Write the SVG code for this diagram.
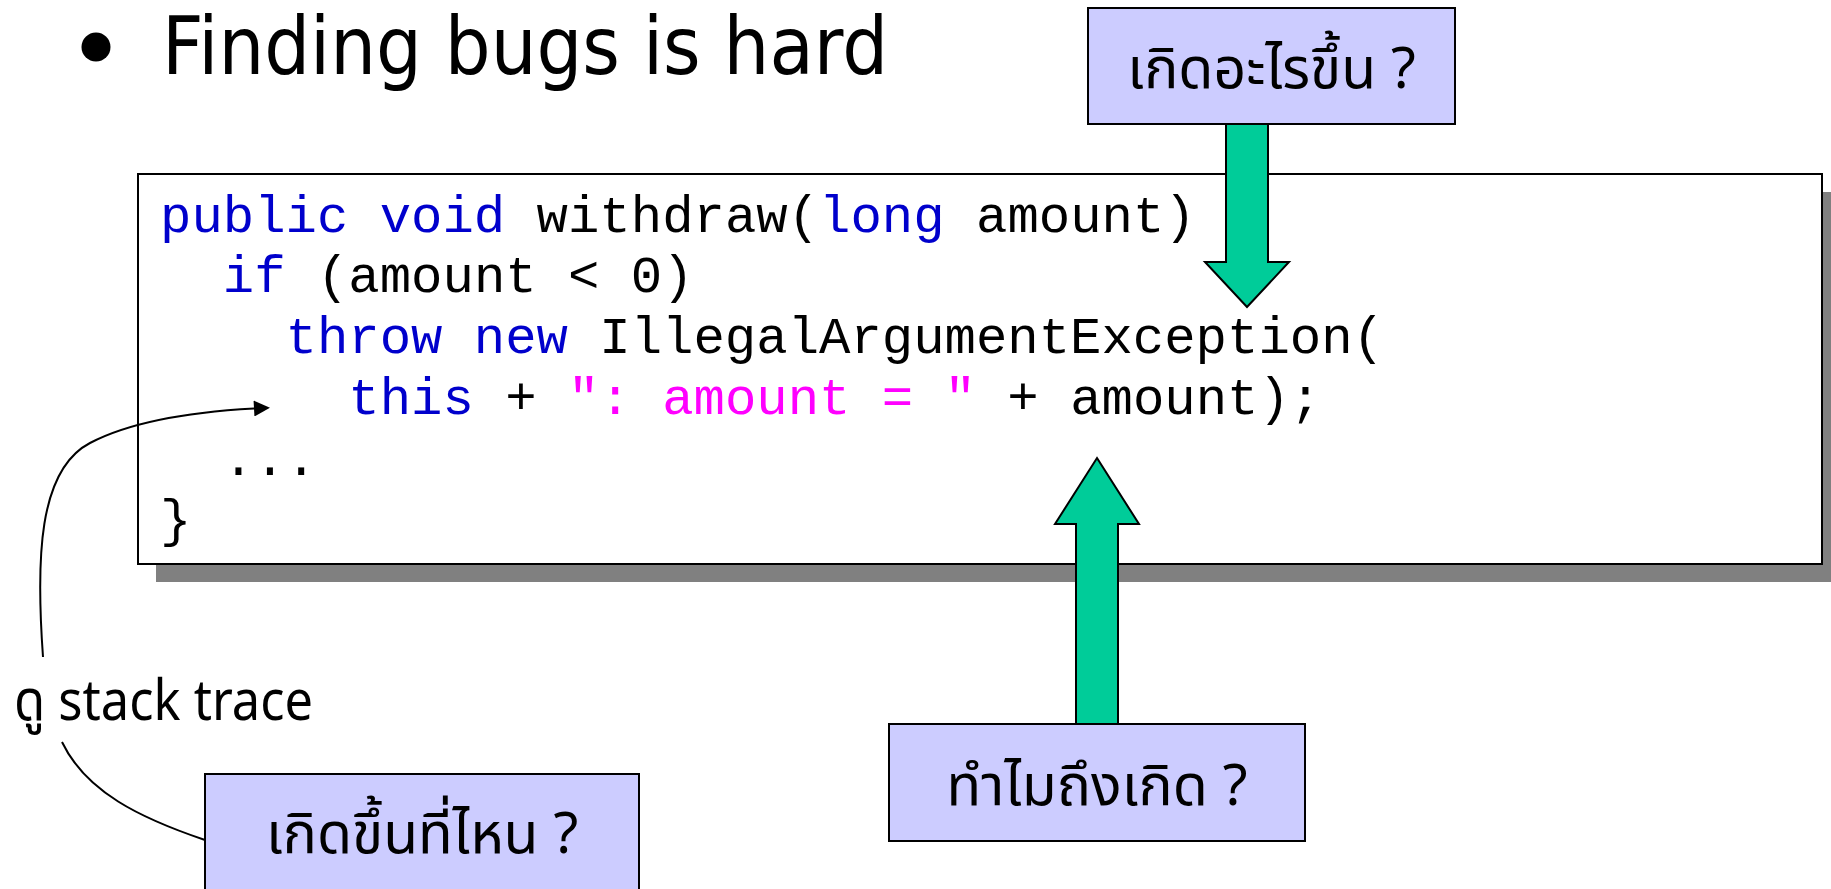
<svg xmlns="http://www.w3.org/2000/svg" width="1831" height="889" viewBox="0 0 1831 889">
  <style>
    .code { font-family: "Liberation Mono", "Courier New", monospace; font-size: 52.3px; fill: #000000; }
    .kw { fill: #0000CC; }
    .str { fill: #FF00FF; }
    .label { font-family: "Tahoma", "Noto Sans Thai", "Loma", "Garuda", "DejaVu Sans", sans-serif; font-size: 57px; fill: #000000; }
    .note { fill: #CCCCFF; stroke: #000000; stroke-width: 2; }
    .block-arrow { fill: #00CC99; stroke: #000000; stroke-width: 2; stroke-linejoin: miter; }
    .curve { fill: none; stroke: #000000; stroke-width: 2; }
  </style>
  <defs>
    <marker id="arrowhead" viewBox="0 0 10 10" refX="0" refY="5" markerUnits="userSpaceOnUse" markerWidth="18" markerHeight="16" orient="auto">
      <path d="M0,0 L10,5 L0,10 Z" fill="#000000"/>
    </marker>
  </defs>

  <rect width="1831" height="889" fill="#FFFFFF"/>

  <!-- slide heading -->
  <g id="title">
    <circle cx="96" cy="47" r="14.5" fill="#000000"/>
    <text x="162" y="74" font-family="Tahoma, 'DejaVu Sans', sans-serif" font-size="80" textLength="726" lengthAdjust="spacingAndGlyphs">Finding bugs is hard</text>
  </g>

  <!-- code listing with drop shadow -->
  <g id="code-box">
    <rect x="156" y="192" width="1680" height="390" fill="#808080"/>
    <rect x="138" y="174" width="1684" height="390" fill="#FFFFFF" stroke="#000000" stroke-width="2"/>
    <text class="code" x="160" y="232" xml:space="preserve"><tspan class="kw">public void</tspan> withdraw(<tspan class="kw">long</tspan> amount)</text>
    <text class="code" x="222.8" y="292" xml:space="preserve"><tspan class="kw">if</tspan> (amount &lt; 0)</text>
    <text class="code" x="285.5" y="353" xml:space="preserve"><tspan class="kw">throw new</tspan> IllegalArgumentException(</text>
    <text class="code" x="348.3" y="414" xml:space="preserve"><tspan class="kw">this</tspan> + <tspan class="str">": amount = "</tspan> + amount);</text>
    <text class="code" x="222.8" y="475" xml:space="preserve">...</text>
    <text class="code" x="160" y="536" xml:space="preserve">}</text>
  </g>

  <!-- connectors: block arrows and the stack-trace pointer -->
  <g id="connectors">
    <polygon class="block-arrow" points="1226,124 1268,124 1268,262 1289,262 1247,307 1205,262 1226,262"/>
    <polygon class="block-arrow" points="1097,458 1139,524 1118,524 1118,724 1076,724 1076,524 1055,524"/>
    <path class="curve" d="M43,657 C36,560 38,470 90,443 C130,422 190,412 254,408.5" marker-end="url(#arrowhead)"/>
    <path class="curve" d="M205,840 C140,818 86,792 62,742"/>
  </g>

  <g id="label-stack-trace">
    <text class="label" x="14" y="720" font-size="50" textLength="299" lengthAdjust="spacingAndGlyphs">ดู stack trace</text>
  </g>

  <g id="box-what">
    <rect class="note" x="1088" y="8" width="367" height="116"/>
    <text class="label" x="1271.5" y="88" text-anchor="middle">เกิดอะไรขึ้น ?</text>
  </g>

  <g id="box-why">
    <rect class="note" x="889" y="724" width="416" height="117"/>
    <text class="label" x="1097" y="805" text-anchor="middle">ทำไมถึงเกิด ?</text>
  </g>

  <g id="box-where">
    <rect class="note" x="205" y="774" width="434" height="130"/>
    <text class="label" x="422" y="853" text-anchor="middle">เกิดขึ้นที่ไหน ?</text>
  </g>
</svg>
